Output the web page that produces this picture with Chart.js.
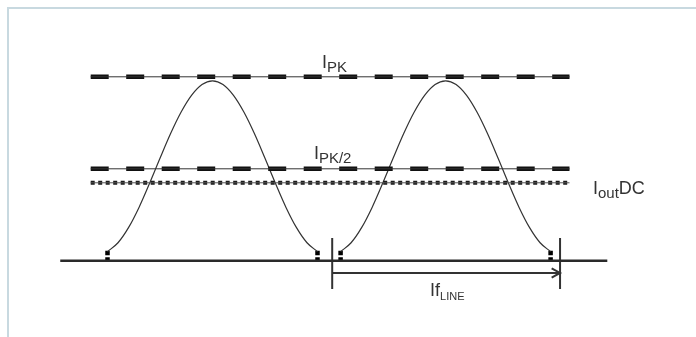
<!DOCTYPE html>
<html>
<head>
<meta charset="utf-8">
<script src="https://cdn.jsdelivr.net/npm/chart.js@4/dist/chart.umd.min.js"></script>
<style>
  html, body { margin: 0; padding: 0; background: #ffffff; }
  #wrap { position: relative; width: 696px; height: 337px; overflow: hidden; }
  #frame { position: absolute; left: 7px; top: 7px; right: -4px; bottom: -4px;
           border-top: 2px solid #c8d9e0; border-left: 2px solid #c8d9e0; pointer-events: none; }
  canvas { position: absolute; left: 0; top: 0; }
</style>
</head>
<body>
<div id="wrap">
  <canvas id="c" width="696" height="337"></canvas>
  <div id="frame"></div>
</div>
<script>
// ---- data (time axis in arbitrary units, current relative to I_PK = 1) ----
const baselineT = [-2.25, 23.8];
const refLineT = [-0.8, 22.0];
const iPk = 1.0;
const iPkHalf = 0.5;
const iOutDc = 0.424;

const hump1T = [0, 0.5, 1, 1.5, 2, 2.5, 3, 3.5, 4, 4.5, 5, 5.5, 6, 6.5, 7, 7.5, 8, 8.5, 9, 9.5, 10];
const hump1I = [0.05, 0.098, 0.18, 0.29, 0.42, 0.557, 0.69, 0.807, 0.899, 0.958, 0.978, 0.958, 0.899, 0.807, 0.69, 0.557, 0.42, 0.29, 0.18, 0.098, 0.05];
const hump2T = [11.1, 11.6, 12.1, 12.6, 13.1, 13.6, 14.1, 14.6, 15.1, 15.6, 16.1, 16.6, 17.1, 17.6, 18.1, 18.6, 19.1, 19.6, 20.1, 20.6, 21.1];
const hump2I = [0.05, 0.098, 0.18, 0.29, 0.42, 0.557, 0.69, 0.807, 0.899, 0.958, 0.978, 0.958, 0.899, 0.807, 0.69, 0.557, 0.42, 0.29, 0.18, 0.098, 0.05];

const endMarkerT = [0, 10, 11.1, 21.1];
const endMarkerI = 0.055;

const periodT = [10.7, 21.55];

const labelTexts = [
  [['I', 'main'], ['PK', 'sub']],
  [['I', 'main'], ['PK/2', 'sub']],
  [['I', 'main'], ['out', 'sub'], ['DC', 'main']],
  [['If', 'main'], ['LINE', 'small']]
];

// ---- build datasets ----
const pts = (xs, ys) => xs.map((x, i) => ({ x: x, y: Array.isArray(ys) ? ys[i] : ys }));
const dark = '#2f2f2f';
const black = '#111111';

const datasets = [];
function add(data, o) {
  datasets.push(Object.assign({ data: data, showLine: true, pointRadius: 0, borderColor: dark,
    borderWidth: 1, fill: false, tension: 0, borderCapStyle: 'butt' }, o));
}

// baseline
add(pts(baselineT, [0, 0]), { borderWidth: 2.5, borderColor: '#2a2a2a' });
// I_PK
add(pts(refLineT, iPk), { borderWidth: 1, borderColor: '#333' });
add(pts(refLineT, iPk), { borderWidth: 4.5, borderColor: black, borderDash: [18, 17.5] });
// I_PK/2
add(pts(refLineT, iPkHalf), { borderWidth: 1, borderColor: '#333' });
add(pts(refLineT, iPkHalf), { borderWidth: 4.5, borderColor: black, borderDash: [18, 17.5] });
// I_out DC
add(pts(refLineT, iOutDc), { borderWidth: 1, borderColor: '#555' });
add(pts(refLineT, iOutDc), { borderWidth: 4, borderColor: '#1a1a1a', borderDash: [4, 3.5] });
// humps
add(pts(hump1T, hump1I), { borderWidth: 1.2, borderColor: '#333', cubicInterpolationMode: 'monotone' });
add(pts(hump2T, hump2I), { borderWidth: 1.2, borderColor: '#333', cubicInterpolationMode: 'monotone' });
// end markers
endMarkerT.forEach(t => add([{ x: t, y: endMarkerI }, { x: t, y: 0 }], { borderWidth: 4.5, borderColor: '#000', borderDash: [4.5, 2] }));
// period ticks
periodT.forEach(t => add([{ x: t, y: 0.124 }, { x: t, y: -0.153 }], { borderWidth: 2, borderColor: '#333' }));
// arrow shaft + head
add(pts(periodT, [-0.066, -0.066]), { borderWidth: 2, borderColor: '#333' });
add([{ x: periodT[1] - 0.4, y: -0.066 + 0.025 }, { x: periodT[1], y: -0.066 }, { x: periodT[1] - 0.4, y: -0.066 - 0.025 }],
    { borderWidth: 2, borderColor: '#333', borderJoinStyle: 'miter' });

// ---- label plugin ----
const labelPos = [
  { x: 10.21, y: 1.048 },
  { x: 9.83, y: 0.553 },
  { x: 23.12, y: 0.363 },
  { x: 15.36, y: -0.19 }
];
const fontFam = '"Liberation Sans", Arial, Helvetica, sans-serif';
const styles = { main: { size: 18, dy: 0 }, sub: { size: 15, dy: 4 }, small: { size: 11, dy: 4 } };

const labelPlugin = {
  id: 'labels',
  afterDatasetsDraw(chart) {
    const ctx = chart.ctx;
    const xs = chart.scales.x, ys = chart.scales.y;
    ctx.save();
    ctx.fillStyle = '#333';
    ctx.textBaseline = 'alphabetic';
    ctx.textAlign = 'left';
    labelTexts.forEach((parts, i) => {
      let px = xs.getPixelForValue(labelPos[i].x);
      const py = ys.getPixelForValue(labelPos[i].y);
      parts.forEach(([txt, st]) => {
        const s = styles[st];
        ctx.font = s.size + 'px ' + fontFam;
        ctx.fillText(txt, px, py + s.dy);
        px += ctx.measureText(txt).width;
      });
    });
    ctx.restore();
  }
};

new Chart(document.getElementById('c'), {
  type: 'scatter',
  data: { datasets: datasets },
  options: {
    responsive: false,
    devicePixelRatio: 1,
    animation: false,
    layout: { padding: { left: 55, right: 53, top: 40, bottom: 21 } },
    plugins: { legend: { display: false }, tooltip: { enabled: false } },
    scales: {
      x: { type: 'linear', min: -2.5, max: 25.5, display: false },
      y: { type: 'linear', min: -0.3, max: 1.2, display: false }
    }
  },
  plugins: [labelPlugin]
});
</script>
</body>
</html>
